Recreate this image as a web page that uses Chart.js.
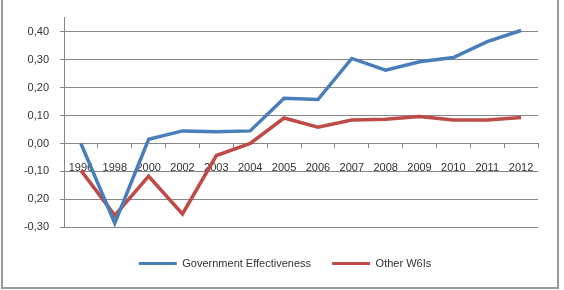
<!DOCTYPE html>
<html>
<head>
<meta charset="utf-8">
<script src="https://cdn.jsdelivr.net/npm/chart.js@4/dist/chart.umd.min.js"></script>
<style>
  html, body { margin: 0; padding: 0; background: #fff; }
  #frame { position: absolute; left: 1px; top: -2px; width: 554px; height: 287px; border: 2px solid #9a9a9a; }
  #wrap { position: absolute; left: 0; top: 0; width: 564px; height: 290px; }
</style>
</head>
<body>
<div id="frame"></div>
<div id="wrap"><canvas id="chart" width="564" height="290"></canvas></div>
<script>
// categories and values
const years = ["1996", "1998", "2000", "2002", "2003", "2004", "2005", "2006", "2007", "2008", "2009", "2010", "2011", "2012"];
const govEffectiveness = [0.0, -0.285, 0.015, 0.045, 0.042, 0.045, 0.162, 0.157, 0.304, 0.262, 0.292, 0.307, 0.364, 0.404];
const otherWGIs = [-0.096, -0.257, -0.117, -0.252, -0.043, 0.0, 0.091, 0.058, 0.084, 0.087, 0.096, 0.084, 0.084, 0.093];
const yTickValues = [-0.3, -0.2, -0.1, 0.0, 0.1, 0.2, 0.3, 0.4];
const yTickLabels = ["-0,30", "0,20", "-0,10", "0,00", "0,10", "0,20", "0,30", "0,40"];

const blue = "#4a7ebb";
const red = "#be4b48";
const axisGray = "#868686";
const textColor = "#333333";

Chart.defaults.font.family = "'Liberation Sans', Arial, sans-serif";
Chart.defaults.font.size = 11;
Chart.defaults.color = textColor;

// legend sits a little right of centre in the original
const shiftLegend = {
  id: "shiftLegend",
  afterLayout(chart) {
    chart.legend.left += 16;
    chart.legend.right += 16;
  }
};

new Chart(document.getElementById("chart"), {
  type: "line",
  data: {
    labels: years,
    datasets: [
      {
        label: "Government Effectiveness",
        data: govEffectiveness,
        borderColor: blue,
        backgroundColor: blue,
        borderWidth: 3.5,
        pointRadius: 0,
        tension: 0
      },
      {
        label: "Other W6Is",
        data: otherWGIs,
        borderColor: red,
        backgroundColor: red,
        borderWidth: 3.5,
        pointRadius: 0,
        tension: 0
      }
    ]
  },
  options: {
    responsive: false,
    animation: false,
    layout: { padding: { left: 0, right: 26, top: 17, bottom: 11 } },
    scales: {
      x: {
        position: { y: 0 },
        offset: true,
        grid: {
          offset: true,
          drawOnChartArea: false,
          drawTicks: true,
          tickLength: 4,
          color: axisGray
        },
        border: { color: axisGray, width: 1 },
        ticks: { padding: 14, maxRotation: 0, autoSkip: false, color: textColor }
      },
      y: {
        min: -0.3,
        max: 0.45,
        afterBuildTicks: (scale) => {
          scale.ticks = yTickValues.map((v) => ({ value: v }));
        },
        afterFit: (scale) => { scale.width = 64; },
        grid: { color: axisGray, tickLength: 4 },
        border: { color: axisGray, width: 1 },
        ticks: {
          padding: 11,
          color: textColor,
          callback: (value) => {
            const i = yTickValues.findIndex((v) => Math.abs(v - value) < 1e-9);
            return i >= 0 ? yTickLabels[i] : "";
          }
        }
      }
    },
    plugins: {
      tooltip: { enabled: false },
      legend: {
        position: "bottom",
        title: { display: true, text: " ", font: { size: 8 }, padding: 0 },
        labels: {
          boxWidth: 38,
          boxHeight: 3,
          padding: 21,
          color: textColor,
          generateLabels: (chart) =>
            chart.data.datasets.map((ds, i) => ({
              text: ds.label,
              fillStyle: ds.borderColor,
              strokeStyle: ds.borderColor,
              lineWidth: 0,
              hidden: false,
              datasetIndex: i
            }))
        }
      }
    }
  },
  plugins: [shiftLegend]
});
</script>
</body>
</html>
